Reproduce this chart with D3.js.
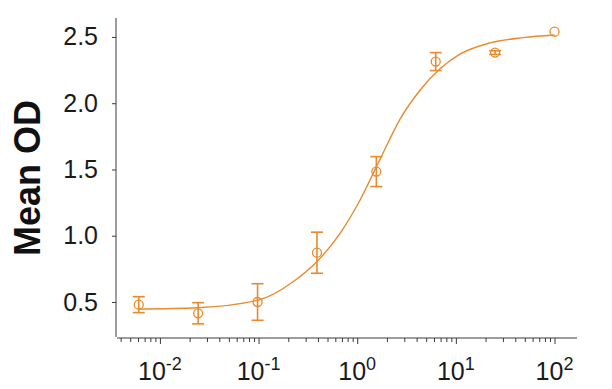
<!DOCTYPE html>
<html>
<head>
<meta charset="utf-8">
<script src="https://cdn.jsdelivr.net/npm/d3@7"></script>
<style>
  html, body { margin: 0; padding: 0; background: #fff; }
  svg { display: block; }
  text { font-family: "Liberation Sans", Arial, sans-serif; }
</style>
</head>
<body>
<svg id="chart" width="612" height="389"></svg>
<script>
// ---- data ----
const concentrations = [0.0061, 0.0244, 0.0977, 0.391, 1.5625, 6.25, 25, 100];
const meanOD        = [0.48,   0.415,  0.50,   0.872, 1.484,  2.314, 2.382, 2.54];
const errorOD       = [0.06,   0.08,   0.138,  0.155, 0.113,  0.068, 0.014, 0];

// fitted curve, points
const curveConc = [0.0061, 0.024, 0.1, 0.226, 0.391, 0.673, 1.07, 1.71, 2.72, 4.35, 6.92, 11.0, 22.2, 48.3, 100];
const curveOD   = [0.447, 0.457, 0.515, 0.655, 0.805, 1.02, 1.27, 1.58, 1.88, 2.10, 2.26, 2.37, 2.455, 2.495, 2.515];

const yTicks = [0.5, 1.0, 1.5, 2.0, 2.5];
const xMajorExponents = [-2, -1, 0, 1, 2];
const yLabel = "Mean OD";

// ---- layout ----
const color = "#E98A2E";
const axisColor = "#3a3a3a";
const svg = d3.select("#chart");

const x = d3.scaleLog().domain([Math.pow(10, -2.435), Math.pow(10, 2.228)]).range([117, 577]);
const y = d3.scaleLinear().domain([0.236, 2.643]).range([337, 18]);

// Y axis
const gy = svg.append("g").attr("transform", "translate(116,0)");
gy.call(d3.axisLeft(y).tickValues(yTicks).tickSize(4).tickPadding(14).tickFormat(d3.format(".1f")));
gy.select(".domain").attr("d", `M0,${y.range()[0]}V${y.range()[1]}`).attr("stroke", axisColor);
gy.selectAll(".tick line").attr("stroke", axisColor);
gy.selectAll(".tick text").attr("font-size", 25).attr("fill", "#1a1a1a")
  .attr("font-family", "'Liberation Sans', Arial, sans-serif");

// X axis
const minorTicks = [];
for (let e = -3; e <= 2; e++) for (let m = 2; m <= 9; m++) {
  const v = m * Math.pow(10, e);
  if (v >= x.domain()[0] && v <= x.domain()[1]) minorTicks.push(v);
}
const majorTicks = xMajorExponents.map(e => Math.pow(10, e));
const gx = svg.append("g").attr("transform", "translate(0,338)");
gx.call(d3.axisBottom(x).tickValues(minorTicks).tickSize(4).tickFormat(""));
gx.select(".domain").attr("d", `M${x.range()[0]},0H${x.range()[1]}`).attr("stroke", axisColor);
gx.selectAll(".tick line").attr("stroke", axisColor);
const gxMaj = svg.append("g").attr("transform", "translate(0,338)");
gxMaj.call(d3.axisBottom(x).tickValues(majorTicks).tickSize(6).tickFormat(""));
gxMaj.select(".domain").remove();
gxMaj.selectAll(".tick line").attr("stroke", axisColor);

// X tick labels with superscript exponents
const labels = svg.append("g");
xMajorExponents.forEach(e => {
  const t = labels.append("text")
    .attr("x", x(Math.pow(10, e)))
    .attr("y", 380)
    .attr("text-anchor", "middle")
    .attr("font-size", 25)
    .attr("fill", "#1a1a1a");
  t.append("tspan").text("10");
  t.append("tspan").attr("font-size", 18).attr("dy", -10).text(String(e).replace("-", "-"));
});

// Y label
svg.append("text")
  .attr("transform", "translate(40,178) rotate(-90)")
  .attr("text-anchor", "middle")
  .attr("font-size", 36)
  .attr("font-weight", "bold")
  .attr("fill", "#111")
  .text(yLabel);

// Fitted curve
const line = d3.line()
  .x((d, i) => x(curveConc[i]))
  .y((d, i) => y(curveOD[i]))
  .curve(d3.curveMonotoneX);
svg.append("path")
  .datum(curveOD)
  .attr("d", line)
  .attr("fill", "none")
  .attr("stroke", color)
  .attr("stroke-width", 1.4);

// Error bars and points
const pts = concentrations.map((c, i) => ({c, m: meanOD[i], e: errorOD[i]}));
const eb = svg.append("g").attr("stroke", color).attr("stroke-width", 1.6).attr("fill", "none");
pts.filter(d => d.e > 0).forEach(d => {
  const cx = x(d.c);
  eb.append("line").attr("x1", cx).attr("x2", cx).attr("y1", y(d.m + d.e)).attr("y2", y(d.m - d.e));
  eb.append("line").attr("x1", cx - 6).attr("x2", cx + 6).attr("y1", y(d.m + d.e)).attr("y2", y(d.m + d.e));
  eb.append("line").attr("x1", cx - 6).attr("x2", cx + 6).attr("y1", y(d.m - d.e)).attr("y2", y(d.m - d.e));
});
svg.append("g").selectAll("circle").data(pts).join("circle")
  .attr("cx", d => x(d.c))
  .attr("cy", d => y(d.m))
  .attr("r", 4.5)
  .attr("fill", "none")
  .attr("stroke", color)
  .attr("stroke-width", 1.3);
</script>
</body>
</html>
